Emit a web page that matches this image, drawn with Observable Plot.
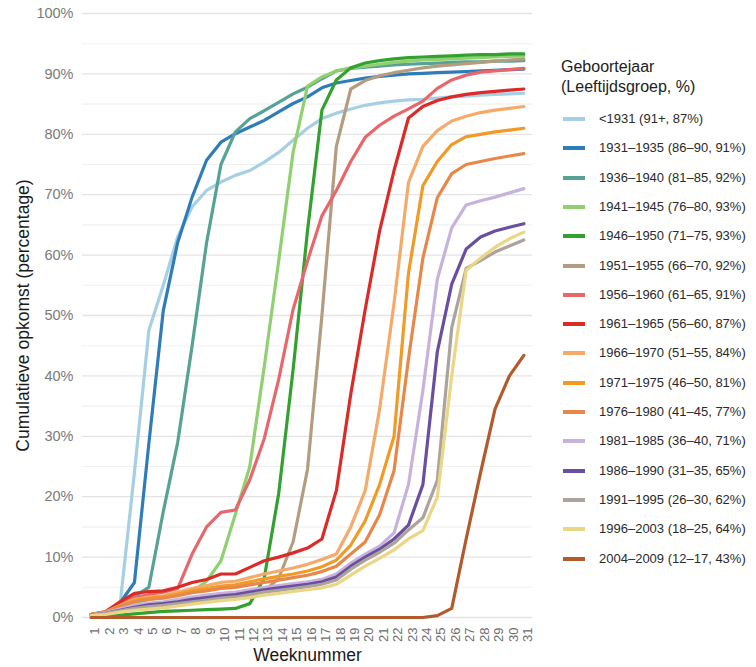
<!DOCTYPE html>
<html>
<head>
<meta charset="utf-8">
<script src="https://cdn.jsdelivr.net/npm/d3@7"></script>
<script src="https://cdn.jsdelivr.net/npm/@observablehq/plot@0.6"></script>
<style>
  html, body { margin: 0; padding: 0; background: #fff; }
  #wrap { position: relative; width: 756px; height: 667px; font-family: "Liberation Sans", Arial, sans-serif; }
  #chart { position: absolute; left: 0; top: 0; }
  .lg-title { position: absolute; left: 561px; top: 57px; font-size: 16px; line-height: 20px; color: #222; }
  .lg-item { position: absolute; left: 563px; height: 18px; line-height: 18px; font-size: 13px; color: #2a2a2a; white-space: nowrap; }
  .lg-sw { position: absolute; left: 0; top: 7px; width: 22px; height: 4px; }
  .lg-tx { position: absolute; left: 36px; top: 0; }
</style>
</head>
<body>
<div id="wrap">
  <div id="chart"></div>
</div>
<script>
const weeks = [1,2,3,4,5,6,7,8,9,10,11,12,13,14,15,16,17,18,19,20,21,22,23,24,25,26,27,28,29,30,31];
const yTicks = [0,10,20,30,40,50,60,70,80,90,100];
const yMinor = [5,15,25,35,45,55,65,75,85,95];

const seriesNames = [
  "<1931 (91+, 87%)",
  "1931\u20131935 (86\u201390, 91%)",
  "1936\u20131940 (81\u201385, 92%)",
  "1941\u20131945 (76\u201380, 93%)",
  "1946\u20131950 (71\u201375, 93%)",
  "1951\u20131955 (66\u201370, 92%)",
  "1956\u20131960 (61\u201365, 91%)",
  "1961\u20131965 (56\u201360, 87%)",
  "1966\u20131970 (51\u201355, 84%)",
  "1971\u20131975 (46\u201350, 81%)",
  "1976\u20131980 (41\u201345, 77%)",
  "1981\u20131985 (36\u201340, 71%)",
  "1986\u20131990 (31\u201335, 65%)",
  "1991\u20131995 (26\u201330, 62%)",
  "1996\u20132003 (18\u201325, 64%)",
  "2004\u20132009 (12\u201317, 43%)"
];
const seriesColors = [
  "#a7cfe4", "#2f7db8", "#56a294", "#90d070", "#33a12f", "#b49c80",
  "#e8676b", "#dc2a27", "#f5aa6a", "#f29a26", "#e8874a", "#c7b2dc",
  "#6a4ea0", "#aca39c", "#ead685", "#b4592a"
];

const s1931 = [0.5, 0.9, 2.0, 24, 47.5, 55, 63, 68, 70.7, 72.1, 73.2, 74, 75.4, 77, 79, 81, 82.6, 83.5, 84.2, 84.8, 85.2, 85.5, 85.7, 85.8, 86.0, 86.2, 86.3, 86.5, 86.6, 86.7, 86.8];
const s1935 = [0.5, 0.9, 2.4, 5.8, 28.8, 50.8, 62.1, 69.6, 75.7, 78.7, 80.1, 81.2, 82.3, 83.7, 85.1, 86.2, 87.7, 88.5, 88.9, 89.3, 89.6, 89.8, 90.0, 90.1, 90.2, 90.3, 90.4, 90.5, 90.6, 90.7, 90.8];
const s1940 = [0.5, 0.9, 2.3, 3.5, 5.0, 17.5, 29.0, 45, 62, 75, 80.4, 82.6, 83.9, 85.3, 86.7, 87.8, 89.2, 90.5, 90.9, 91.1, 91.3, 91.5, 91.6, 91.7, 91.8, 91.9, 92.0, 92.0, 92.1, 92.1, 92.2];
const s1945 = [0.4, 0.8, 1.6, 2.4, 3.0, 3.4, 3.8, 4.3, 6.0, 9.4, 17.1, 25.0, 41.5, 59.0, 77.0, 88.0, 89.5, 90.5, 91.0, 91.3, 91.6, 91.9, 92.1, 92.3, 92.4, 92.5, 92.6, 92.7, 92.8, 92.9, 93.0];
const s1950 = [0.2, 0.3, 0.4, 0.6, 0.8, 1.0, 1.1, 1.2, 1.3, 1.4, 1.5, 2.3, 6.5, 20.5, 41, 64, 84, 89, 91, 91.8, 92.2, 92.5, 92.7, 92.8, 92.9, 93.0, 93.1, 93.2, 93.2, 93.3, 93.3];
const s1955 = [0.4, 0.7, 1.2, 1.5, 1.8, 2.0, 2.2, 2.5, 2.8, 3.1, 3.4, 3.8, 4.3, 6.5, 12.5, 24.5, 50, 78, 87.5, 88.9, 89.7, 90.2, 90.6, 91.0, 91.3, 91.5, 91.7, 91.9, 92.1, 92.3, 92.5];
const s1960 = [0.5, 0.9, 2.3, 3.3, 3.8, 4.2, 4.8, 10.5, 15, 17.4, 17.8, 22.8, 29.6, 39.4, 51, 59, 66.5, 70.7, 75.5, 79.5, 81.5, 83, 84.2, 85.5, 87.6, 89, 89.8, 90.3, 90.5, 90.7, 90.9];
const s1965 = [0.5, 1.0, 2.6, 4.0, 4.3, 4.4, 5.0, 5.8, 6.3, 7.2, 7.2, 8.3, 9.4, 10.0, 10.7, 11.5, 13.0, 21, 37, 51, 64, 74, 82.7, 84.6, 85.6, 86.2, 86.6, 86.9, 87.1, 87.3, 87.5];
const s1970 = [0.5, 0.9, 2.0, 3.0, 3.4, 3.6, 4.2, 4.8, 5.3, 5.8, 6.0, 6.6, 7.2, 7.7, 8.2, 8.8, 9.6, 10.5, 15, 21, 34.5, 52, 72, 78, 80.6, 82.2, 83.0, 83.6, 84.0, 84.3, 84.6];
const s1975 = [0.5, 0.9, 1.9, 2.8, 3.2, 3.4, 3.9, 4.4, 4.8, 5.2, 5.4, 5.9, 6.4, 6.8, 7.2, 7.7, 8.4, 9.5, 12, 16, 22, 30, 57, 71.5, 75.5, 78.3, 79.6, 80.0, 80.4, 80.7, 81.0];
const s1980 = [0.5, 0.9, 1.8, 2.6, 3.0, 3.2, 3.6, 4.1, 4.4, 4.8, 5.0, 5.4, 5.8, 6.2, 6.6, 7.0, 7.6, 8.5, 10.5, 12.5, 17, 24.3, 42.8, 59.5, 69.5, 73.5, 75, 75.5, 76, 76.4, 76.8];
const s1985 = [0.4, 0.8, 1.4, 2.0, 2.4, 2.6, 3.0, 3.4, 3.7, 4.0, 4.2, 4.6, 5.0, 5.3, 5.6, 5.9, 6.3, 7.2, 9.0, 10.5, 11.8, 14, 22, 37.6, 56, 64.5, 68.3, 69, 69.6, 70.3, 71];
const s1990 = [0.4, 0.7, 1.2, 1.7, 2.1, 2.3, 2.6, 3.0, 3.3, 3.6, 3.8, 4.2, 4.6, 4.9, 5.2, 5.5, 5.9, 6.7, 8.5, 10.0, 11.3, 13, 15.3, 22, 44, 55.2, 61, 63, 64, 64.6, 65.2];
const s1995 = [0.4, 0.7, 1.1, 1.5, 1.8, 2.0, 2.3, 2.6, 2.9, 3.2, 3.4, 3.8, 4.2, 4.5, 4.8, 5.1, 5.5, 6.2, 8.0, 9.5, 10.8, 12.3, 14.5, 16.5, 22.7, 48, 57.8, 59.1, 60.5, 61.5, 62.5];
const s2003 = [0.3, 0.5, 0.9, 1.2, 1.4, 1.6, 1.9, 2.2, 2.5, 2.8, 3.0, 3.3, 3.7, 4.0, 4.3, 4.6, 4.9, 5.5, 7.0, 8.5, 9.8, 11.2, 13.0, 14.4, 19.9, 40, 57.5, 59.5, 61.3, 62.7, 63.8];
const s2009 = [0, 0, 0, 0, 0, 0, 0, 0, 0, 0, 0, 0, 0, 0, 0, 0, 0, 0, 0, 0, 0, 0, 0, 0, 0.3, 1.5, 13, 24, 34.5, 40, 43.4];

const seriesValues = [s1931, s1935, s1940, s1945, s1950, s1955, s1960, s1965, s1970, s1975, s1980, s1985, s1990, s1995, s2003, s2009];

const rows = [];
seriesNames.forEach((name, i) => {
  seriesValues[i].forEach((v, j) => rows.push({series: name, week: weeks[j], value: v}));
});

const FONT = "Liberation Sans, Arial, sans-serif";

const chart = Plot.plot({
  width: 545,
  height: 667,
  marginTop: 13,
  marginBottom: 50,
  marginLeft: 82,
  marginRight: 13,
  style: {fontFamily: FONT, background: "white", overflow: "visible"},
  x: {domain: [0.4, 31.6], axis: null},
  y: {domain: [0, 100], axis: null},
  color: {domain: seriesNames, range: seriesColors},
  marks: [
    Plot.ruleY(yMinor, {stroke: "#f0f0f0", strokeWidth: 1.1}),
    Plot.ruleY(yTicks, {stroke: "#e4e4e4", strokeWidth: 1.3}),
    Plot.text(yTicks, {y: d => d, frameAnchor: "left", dx: -9, text: d => d + "%", textAnchor: "end", fill: "#7a7a7a", fontSize: 14.5}),
    Plot.text(weeks, {x: d => d, frameAnchor: "bottom", dx: 4, dy: 10, rotate: -90, text: d => String(d), textAnchor: "end", lineAnchor: "middle", fill: "#6e6e6e", fontSize: 13}),
    Plot.text(["Weeknummer"], {frameAnchor: "bottom", dy: 38, text: d => d, fill: "#1a1a1a", fontSize: 17.5, lineAnchor: "middle"}),
    Plot.text(["Cumulatieve opkomst (percentage)"], {frameAnchor: "left", dx: -59, rotate: -90, text: d => d, fill: "#1a1a1a", fontSize: 17.5, lineAnchor: "middle", textAnchor: "middle"}),
    Plot.line(rows, {x: "week", y: "value", z: "series", stroke: "series", strokeWidth: 3.2, strokeLinejoin: "round", strokeLinecap: "round"})
  ]
});
document.getElementById("chart").appendChild(chart);

const wrap = document.getElementById("wrap");
const title = document.createElement("div");
title.className = "lg-title";
title.innerHTML = "Geboortejaar<br>(Leeftijdsgroep, %)";
wrap.appendChild(title);
seriesNames.forEach((name, i) => {
  const item = document.createElement("div");
  item.className = "lg-item";
  item.style.top = (119 + i * 29.3 - 9) + "px";
  const sw = document.createElement("div");
  sw.className = "lg-sw";
  sw.style.background = seriesColors[i];
  const tx = document.createElement("div");
  tx.className = "lg-tx";
  tx.textContent = name;
  item.appendChild(sw);
  item.appendChild(tx);
  wrap.appendChild(item);
});
</script>
</body>
</html>
